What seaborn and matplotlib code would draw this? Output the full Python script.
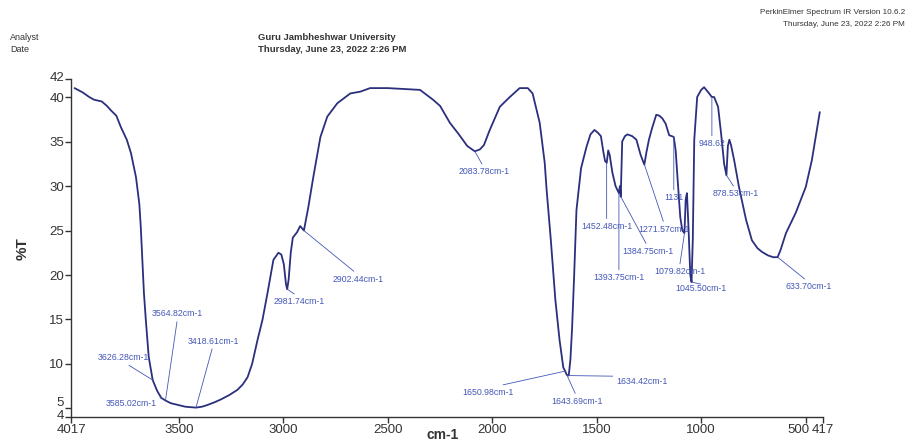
import matplotlib
matplotlib.use('Agg')
import matplotlib.pyplot as plt
import matplotlib.transforms as mtransforms
import pandas as pd
import seaborn as sns

# IR spectrum (cm-1, %T)
wavenumber = [
    4000, 3960, 3930, 3907, 3870, 3845, 3826, 3800, 3778, 3750, 3730, 3706,
    3690, 3683, 3668, 3659, 3645, 3626, 3605, 3585, 3565, 3540, 3506, 3470,
    3419, 3390, 3363, 3330, 3301, 3260, 3220, 3195, 3172, 3150, 3124, 3100,
    3076, 3048, 3024, 3010, 2998, 2988, 2982, 2975, 2965, 2955, 2935, 2920,
    2902, 2881, 2857, 2823, 2790, 2742, 2680, 2632, 2585, 2500, 2420, 2346,
    2284, 2250, 2203, 2160, 2120, 2084, 2060, 2040, 2012, 1964, 1916, 1869,
    1830, 1807, 1773, 1749, 1740, 1720, 1698, 1678, 1660, 1651, 1644, 1634,
    1626, 1618, 1608, 1597, 1575, 1549, 1530, 1511, 1495, 1480, 1468, 1460,
    1452, 1445, 1438, 1425, 1410, 1394, 1389, 1385, 1378, 1365, 1353, 1330,
    1310, 1290, 1272, 1262, 1250, 1235, 1215, 1200, 1186, 1170, 1153, 1140,
    1131, 1122, 1112, 1100, 1090, 1080, 1074, 1068, 1060, 1052, 1046, 1040,
    1033, 1019, 1000, 986, 965, 949, 938, 919, 905, 890, 879, 872, 865, 857,
    842, 819, 785, 757, 730, 709, 680, 655, 634, 620, 594, 547, 499, 470, 446,
    432,
]
transmittance = [
    41.0, 40.5, 40.0, 39.7, 39.5, 39.0, 38.5, 37.9, 36.6, 35.2, 33.7, 31.0,
    28.0, 25.4, 18.0, 15.0, 10.8, 8.2, 7.0, 6.2, 5.9, 5.6, 5.4, 5.2,
    5.1, 5.2, 5.4, 5.7, 6.0, 6.5, 7.1, 7.7, 8.5, 10.0, 12.7, 15.0,
    18.0, 21.7, 22.5, 22.3, 21.2, 19.0, 18.4, 19.5, 22.5, 24.2, 24.8, 25.5,
    25.0, 27.6, 31.0, 35.5, 37.8, 39.3, 40.4, 40.6, 41.0, 41.0, 40.9, 40.8,
    39.7, 39.0, 37.1, 35.8, 34.5, 33.9, 34.1, 34.6, 36.3, 38.9, 40.0, 41.0,
    41.0, 40.4, 37.1, 32.6, 29.6, 24.0, 17.2, 12.7, 9.6, 9.2, 8.8, 8.7,
    10.5, 14.0, 20.0, 27.3, 32.0, 34.4, 35.8, 36.3, 36.0, 35.6, 33.8, 32.8,
    32.6, 34.0, 33.5, 31.5, 30.0, 29.2, 30.0, 28.8, 35.0, 35.6, 35.8, 35.6,
    35.2, 33.5, 32.4, 33.8, 35.2, 36.5, 38.0, 37.9, 37.6, 37.0, 35.7, 35.6,
    35.5, 34.0, 30.5, 26.5, 25.0, 24.7, 28.5, 29.2, 25.0, 20.0, 19.2, 24.0,
    35.2, 40.0, 40.8, 41.1, 40.5, 40.0, 40.0, 38.9, 36.0, 32.5, 31.2, 34.5, 35.2, 34.6,
    32.9, 29.9, 26.2, 23.9, 23.0, 22.6, 22.2, 22.0, 22.0, 22.8, 24.7, 27.0, 29.9, 32.9, 36.3,
    38.3,
]

# labelled peaks
peak_labels = [
    '3626.28cm-1', '3585.02cm-1', '3564.82cm-1', '3418.61cm-1', '2981.74cm-1',
    '2902.44cm-1', '2083.78cm-1', '1650.98cm-1', '1643.69cm-1', '1634.42cm-1',
    '1452.48cm-1', '1393.75cm-1', '1384.75cm-1', '1271.57cm-1', '1131',
    '1079.82cm-1', '1045.50cm-1', '948.62', '878.53cm-1', '633.70cm-1',
]
peak_wn = [3626.28, 3585.02, 3564.82, 3418.61, 2981.74, 2902.44, 2083.78,
           1650.98, 1643.69, 1634.42, 1452.48, 1393.75, 1384.75, 1271.57,
           1131.0, 1079.82, 1045.50, 948.62, 878.53, 633.70]
peak_t = [8.2, 6.2, 5.9, 5.1, 18.4, 25.0, 33.9, 9.2, 8.8, 8.7, 32.6, 29.2,
          28.8, 32.4, 35.5, 24.7, 19.2, 40.0, 31.2, 22.0]

# where each label sits relative to its peak (pixels), and which side the line joins
label_offset = [(-29, 18), (-30, -1), (12, 82), (17, 62), (12, -8), (54, -44),
                (9, -16), (-77, -17), (10, -22), (73, -1), (0, -59), (0, -80),
                (27, -50), (20, -60), (0, -56), (-5, -34), (9, -2), (0, -42),
                (9, -14), (31, -25)]
label_below = [False, True, False, False, True, True, True, True, True, True,
               True, True, True, True, True, True, True, True, True, True]

df = pd.DataFrame({'wn': wavenumber, 't': transmittance})

sns.set_style('ticks')
plt.rcParams['font.family'] = ['Liberation Sans', 'DejaVu Sans']

fig = plt.figure(figsize=(9.07, 4.43), dpi=100)
ax = fig.add_axes([0.0783, 0.0578, 0.829, 0.7634])

line_col = '#2b2f7e'
lab_col = '#4457b8'

sns.lineplot(data=df, x='wn', y='t', ax=ax, sort=False, estimator=None,
             color=line_col, lw=1.3)

for lab, w, t, (dx, dy), below in zip(peak_labels, peak_wn, peak_t,
                                     label_offset, label_below):
    ax.annotate(lab, xy=(w, t), xytext=(dx, dy), textcoords='offset pixels',
                ha='center', va='top' if below else 'bottom',
                fontsize=6.3, color=lab_col,
                arrowprops=dict(arrowstyle='-', color=lab_col, lw=0.6,
                                shrinkA=0, shrinkB=0,
                                relpos=(0.5, 1.0 if below else 0.0)))

ax.set_xlim(4017, 417)
ax.set_ylim(4, 42)
ax.set_xticks([4017, 3500, 3000, 2500, 2000, 1500, 1000, 500, 417])
ax.set_xticklabels(['4017', '3500', '3000', '2500', '2000', '1500', '1000',
                    '500', '417'])
ax.set_yticks([4, 5, 10, 15, 20, 25, 30, 35, 40, 42])
ax.set_yticklabels(['4', '5', '10', '15', '20', '25', '30', '35', '40', '42'])
ax.tick_params(direction='out', length=4, width=1, colors='#333333',
               labelsize=9.5, pad=1)
for sp in ['left', 'bottom']:
    ax.spines[sp].set_color('#333333')
    ax.spines[sp].set_linewidth(1)
sns.despine(ax=ax)

# nudge crowded end labels like the instrument printout
def nudge(lbl, dx, dy):
    off = mtransforms.ScaledTranslation(dx / 100, dy / 100, fig.dpi_scale_trans)
    lbl.set_transform(lbl.get_transform() + off)

ylabs = ax.get_yticklabels()
nudge(ylabs[0], 0, 3)
nudge(ylabs[1], 0, 7)
nudge(ylabs[-1], 0, 3)
xlabs = ax.get_xticklabels()
nudge(xlabs[7], -7, 0)

ax.set_ylabel('%T', fontsize=11, fontweight='bold', color='#333333', labelpad=14)

W, H = 907, 443
fig.text(443 / W, 1 - 435 / H, 'cm-1', fontsize=10, fontweight='bold',
         color='#333333', ha='center', va='center')
fig.text(10 / W, 1 - 37 / H, 'Analyst', fontsize=6.5, color='#333333', va='center')
fig.text(10 / W, 1 - 50 / H, 'Date', fontsize=6.5, color='#333333', va='center')
fig.text(258 / W, 1 - 37 / H, 'Guru Jambheshwar University', fontsize=6.8,
         fontweight='bold', color='#333333', va='center')
fig.text(258 / W, 1 - 50 / H, 'Thursday, June 23, 2022 2:26 PM', fontsize=6.8,
         fontweight='bold', color='#333333', va='center')
fig.text(905 / W, 1 - 13 / H, 'PerkinElmer Spectrum IR Version 10.6.2',
         fontsize=5.9, color='#333333', va='center', ha='right')
fig.text(905 / W, 1 - 24 / H, 'Thursday, June 23, 2022 2:26 PM',
         fontsize=5.9, color='#333333', va='center', ha='right')

fig.savefig('out.png', dpi=100)
